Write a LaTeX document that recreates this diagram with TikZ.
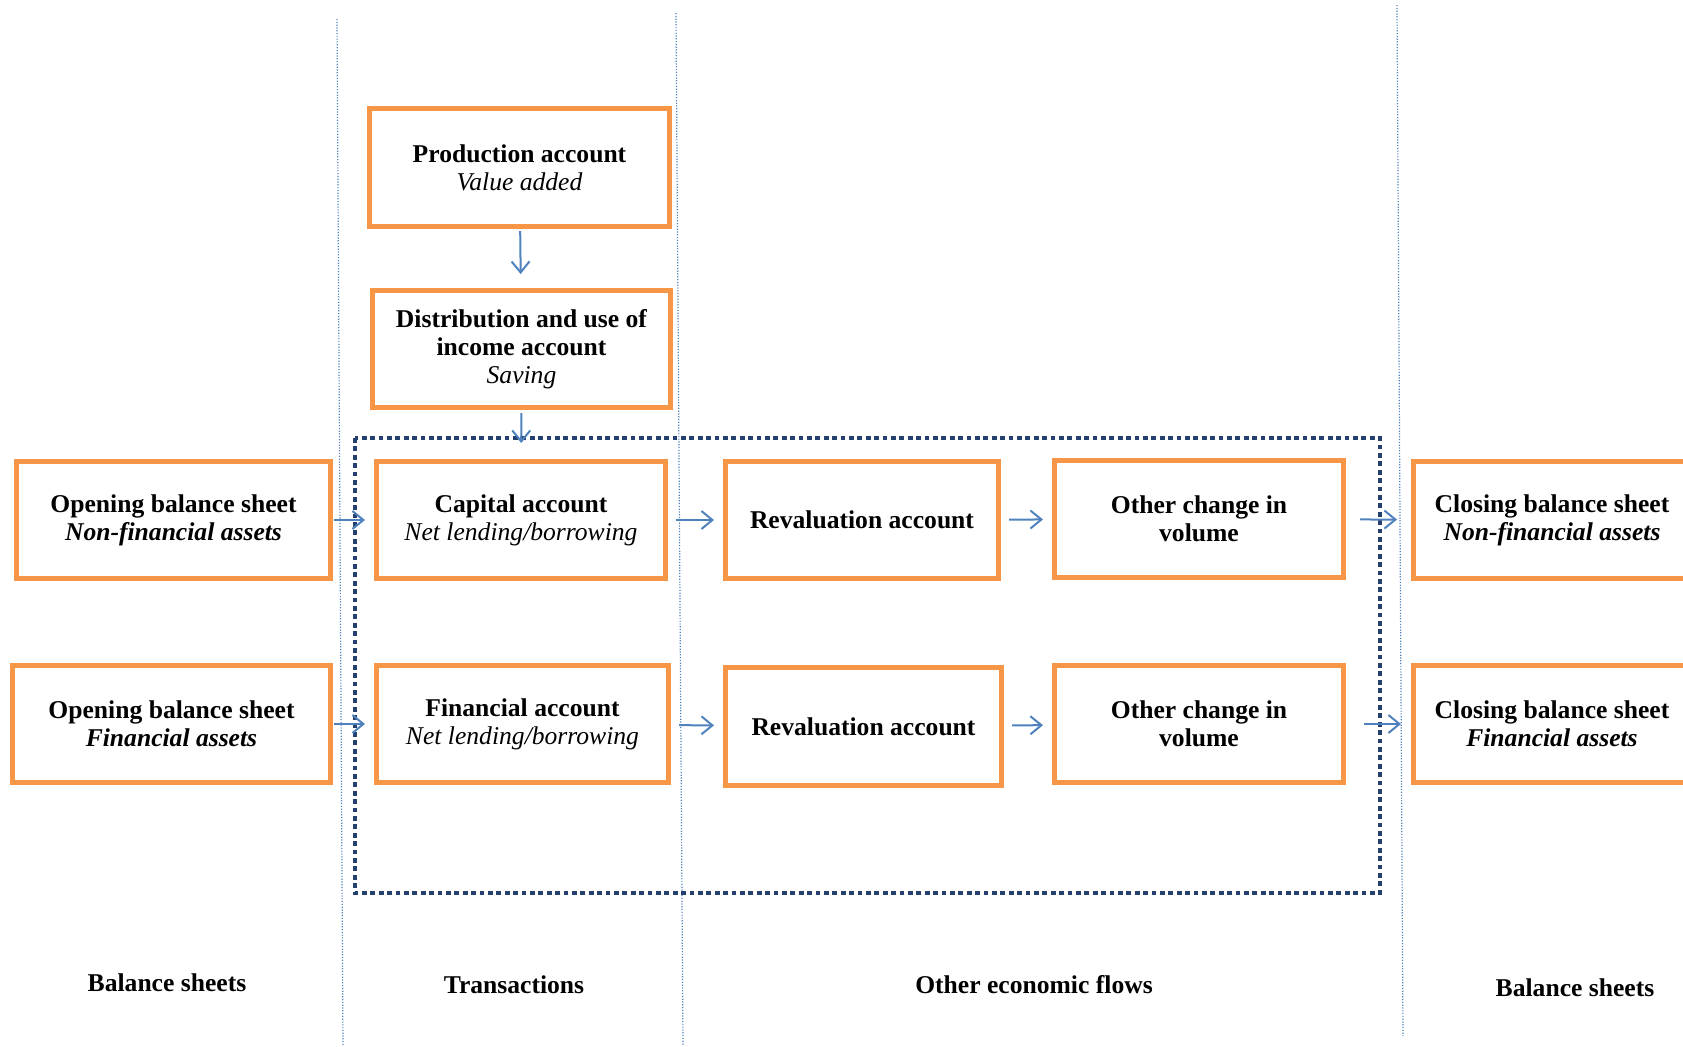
\documentclass[tikz,border=0pt]{standalone}
\usepackage{fontspec}
\setmainfont{Liberation Serif}
\usetikzlibrary{arrows.meta}
\definecolor{acctorange}{RGB}{247,150,70}
\definecolor{flowblue}{RGB}{79,129,189}
\definecolor{framenavy}{RGB}{37,64,110}

\begin{document}
\begin{tikzpicture}[x=0.5pt, y=-0.5pt,
          acct/.style={draw=acctorange, line width=2.5pt, fill=white, minimum height=58.5pt, align=center, inner sep=2pt, font=\fontsize{12.8}{14}\selectfont\bfseries},
          flow/.style={draw=flowblue, line width=1pt, -{Straight Barb[length=5.5pt, width=9pt]}, shorten <=4pt, shorten >=4.5pt},
          divider/.style={draw=flowblue, line width=0.6pt, dash pattern=on 0.6pt off 0.8pt},
          heading/.style={font=\fontsize{12.8}{14}\selectfont\bfseries}]
          \useasboundingbox (0,0) rectangle (1683,1046);

          \draw[divider] (337,19) -- (343,1046);
          \draw[divider] (676,13) -- (683,1046);
          \draw[divider] (1397,5) -- (1403,1036);

          \node[acct, minimum width=150pt, minimum height=59pt] (prod) at (519.5,167.5) {Production account\\\textit{\mdseries Value added}};
          \node[acct, minimum width=149pt] (dist) at (521.5,349) {Distribution and use of\\income account\\\textit{\mdseries Saving}};

          \node[acct, minimum width=157pt] (obsnf) at (173.5,520) {Opening balance sheet\\\textit{Non-financial assets}};
          \node[acct, minimum width=144.5pt] (cap) at (521,520) {Capital account\\\textit{\mdseries Net lending/borrowing}};
          \node[acct, minimum width=136.5pt] (reva) at (862,520) {Revaluation account};
          \node[acct, minimum width=144.5pt] (ocva) at (1199,519) {Other change in\\volume};
          \node[acct, minimum width=138.5pt] (cbsnf) at (1552,520) {Closing balance sheet\\\textit{Non-financial assets}};

          \node[acct, minimum width=159pt] (obsf) at (171.5,724) {Opening balance sheet\\\textit{Financial assets}};
          \node[acct, minimum width=146pt] (fin) at (522.5,724) {Financial account\\\textit{\mdseries Net lending/borrowing}};
          \node[acct, minimum width=138pt, minimum height=59pt] (revb) at (863.5,726.5) {Revaluation account};
          \node[acct, minimum width=144.5pt] (ocvb) at (1199,724) {Other change in\\volume};
          \node[acct, minimum width=138.5pt] (cbsf) at (1552,724) {Closing balance sheet\\\textit{Financial assets}};

          \draw[draw=framenavy, line width=2.4pt, dash pattern=on 2.4pt off 1.8pt] (355,438) rectangle (1380,893);

          \draw[flow, shorten <=1pt, shorten >=7pt] (prod) -- (dist);
          \draw[flow, shorten <=1.5pt, shorten >=8pt] (dist) -- (cap);

          \draw[flow, shorten <=0.5pt] (obsnf) -- (cap);
          \draw[flow] (cap) -- (reva);
          \draw[flow] (reva) -- (ocva);
          \draw[flow, shorten <=7pt, shorten >=7pt] (ocva) -- (cbsnf);

          \draw[flow, shorten <=0.5pt] (obsf) -- (fin);
          \draw[flow] (fin) -- (revb);
          \draw[flow] (revb) -- (ocvb);
          \draw[flow, shorten <=9pt, shorten >=5pt] (ocvb) -- (cbsf);

          \node[heading] (bsl) at (167,983) {Balance sheets};
          \node[heading] (trn) at (514,985) {Transactions};
          \node[heading] (oef) at (1034,985) {Other economic flows};
          \node[heading] (bsr) at (1575,988) {Balance sheets};
        \end{tikzpicture}
\end{document}
